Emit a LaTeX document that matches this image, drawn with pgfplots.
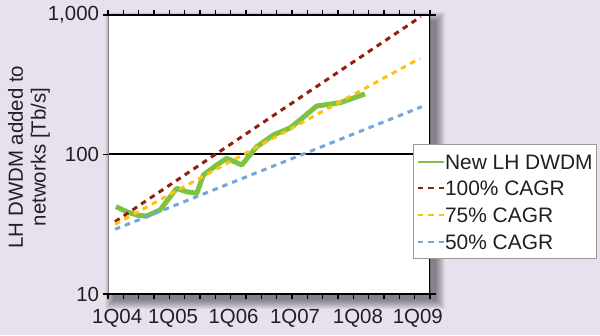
\documentclass[border=0pt]{standalone}
\usepackage{pgfplots}
\pgfplotsset{compat=1.18}
\usepackage{fontspec}
\setmainfont{Liberation Sans}
\definecolor{bg}{HTML}{E7E1EE}
\definecolor{cgreen}{HTML}{7DC242}
\definecolor{cred}{HTML}{931F0C}
\definecolor{cgold}{HTML}{FFC20E}
\definecolor{cblue}{HTML}{6FA8DC}
\definecolor{txt}{HTML}{231F20}
\begin{document}
\begin{tikzpicture}[x=1bp,y=1bp]
\useasboundingbox (0,0) rectangle (600,335);
\fill[bg] (0,0) rectangle (600,335);
\foreach \i in {0,...,9} {
  \fill[black,opacity=0.05] (114-\i,35-\i) rectangle (436+\i,314+\i);
}
\node[rotate=90, align=center, font=\fontsize{20.5}{23}\selectfont, text=txt] at (29,178) {LH DWDM added to\\networks [Tb/s]};
\begin{axis}[
  at={(108bp,41bp)}, anchor=south west, scale only axis,
  width=322bp, height=279bp,
  xmin=0, xmax=21, ymode=log, ymin=10, ymax=1000,
  axis background/.style={fill=white},
  axis line style={draw=none},
  xtick={0,...,21}, xticklabels={},
  tick align=outside, major tick length=5.5bp,
  tick style={black, line width=1.2bp},
  ytick={10,100,1000}, yticklabels={10,100,{1,000}}, yminorticks=false,
  ymajorgrids, grid style={black, line width=2bp},
  extra x ticks={0.6,4.24,8.19,12.2,16.3,20.2},
  extra x tick labels={1Q04,1Q05,1Q06,1Q07,1Q08,1Q09},
  extra x tick style={major tick length=0pt, xticklabel style={yshift=-12bp}},
  ticklabel style={font=\fontsize{20.5}{24}\selectfont, text=txt},
  /pgf/number format/assume math mode=true,
  legend style={at={(rel axis cs:0.947,0.536)}, anchor=north west,
    draw=gray!80, line width=0.8bp, fill=white,
    font=\fontsize{21}{24}\selectfont, text=txt,
    inner xsep=3.5bp, inner ysep=4.3bp, row sep=1.7bp,
    nodes={inner sep=0bp, text height=20bp, text depth=5bp}},
  legend cell align=left,
  legend image code/.code={\draw[#1, line width=2.2bp] (0bp,0bp) -- (26bp,0bp);},
]
\addplot[cgreen, line width=5bp, line join=round] coordinates {
 (0.52,42.3) (1.22,38.9) (1.87,36.8) (2.52,36.2) (3.39,40.0) (4.48,57.2)
 (5.13,54.1) (5.79,52.7) (6.22,71.3) (7.09,84.1) (7.74,93.9) (8.72,84.1)
 (9.70,113.7) (10.78,138.0) (11.87,154.9) (12.52,176.7) (13.61,222.7)
 (15.13,235.1) (16.76,271.5)};
\addlegendentry{New LH DWDM}
\addplot[cred, line width=3bp, dash pattern=on 5.5bp off 5bp] coordinates {(0.46,33.0) (20.4,972)};
\addlegendentry{100\% CAGR}
\addplot[cgold, line width=3bp, dash pattern=on 5.5bp off 5bp] coordinates {(0.46,31.6) (20.35,489)};
\addlegendentry{75\% CAGR}
\addplot[cblue, line width=3bp, dash pattern=on 5.5bp off 5bp] coordinates {(0.46,29.1) (20.46,220)};
\addlegendentry{50\% CAGR}
\draw[gray, line width=2bp] (rel axis cs:0,0) -- (rel axis cs:0,1);
\draw[black, line width=1.2bp] (rel axis cs:0,1) -- (rel axis cs:1,1) -- (rel axis cs:1,0);
\draw[black, line width=2bp] (rel axis cs:0,0) -- (rel axis cs:1,0);
\end{axis}
\end{tikzpicture}
\end{document}
